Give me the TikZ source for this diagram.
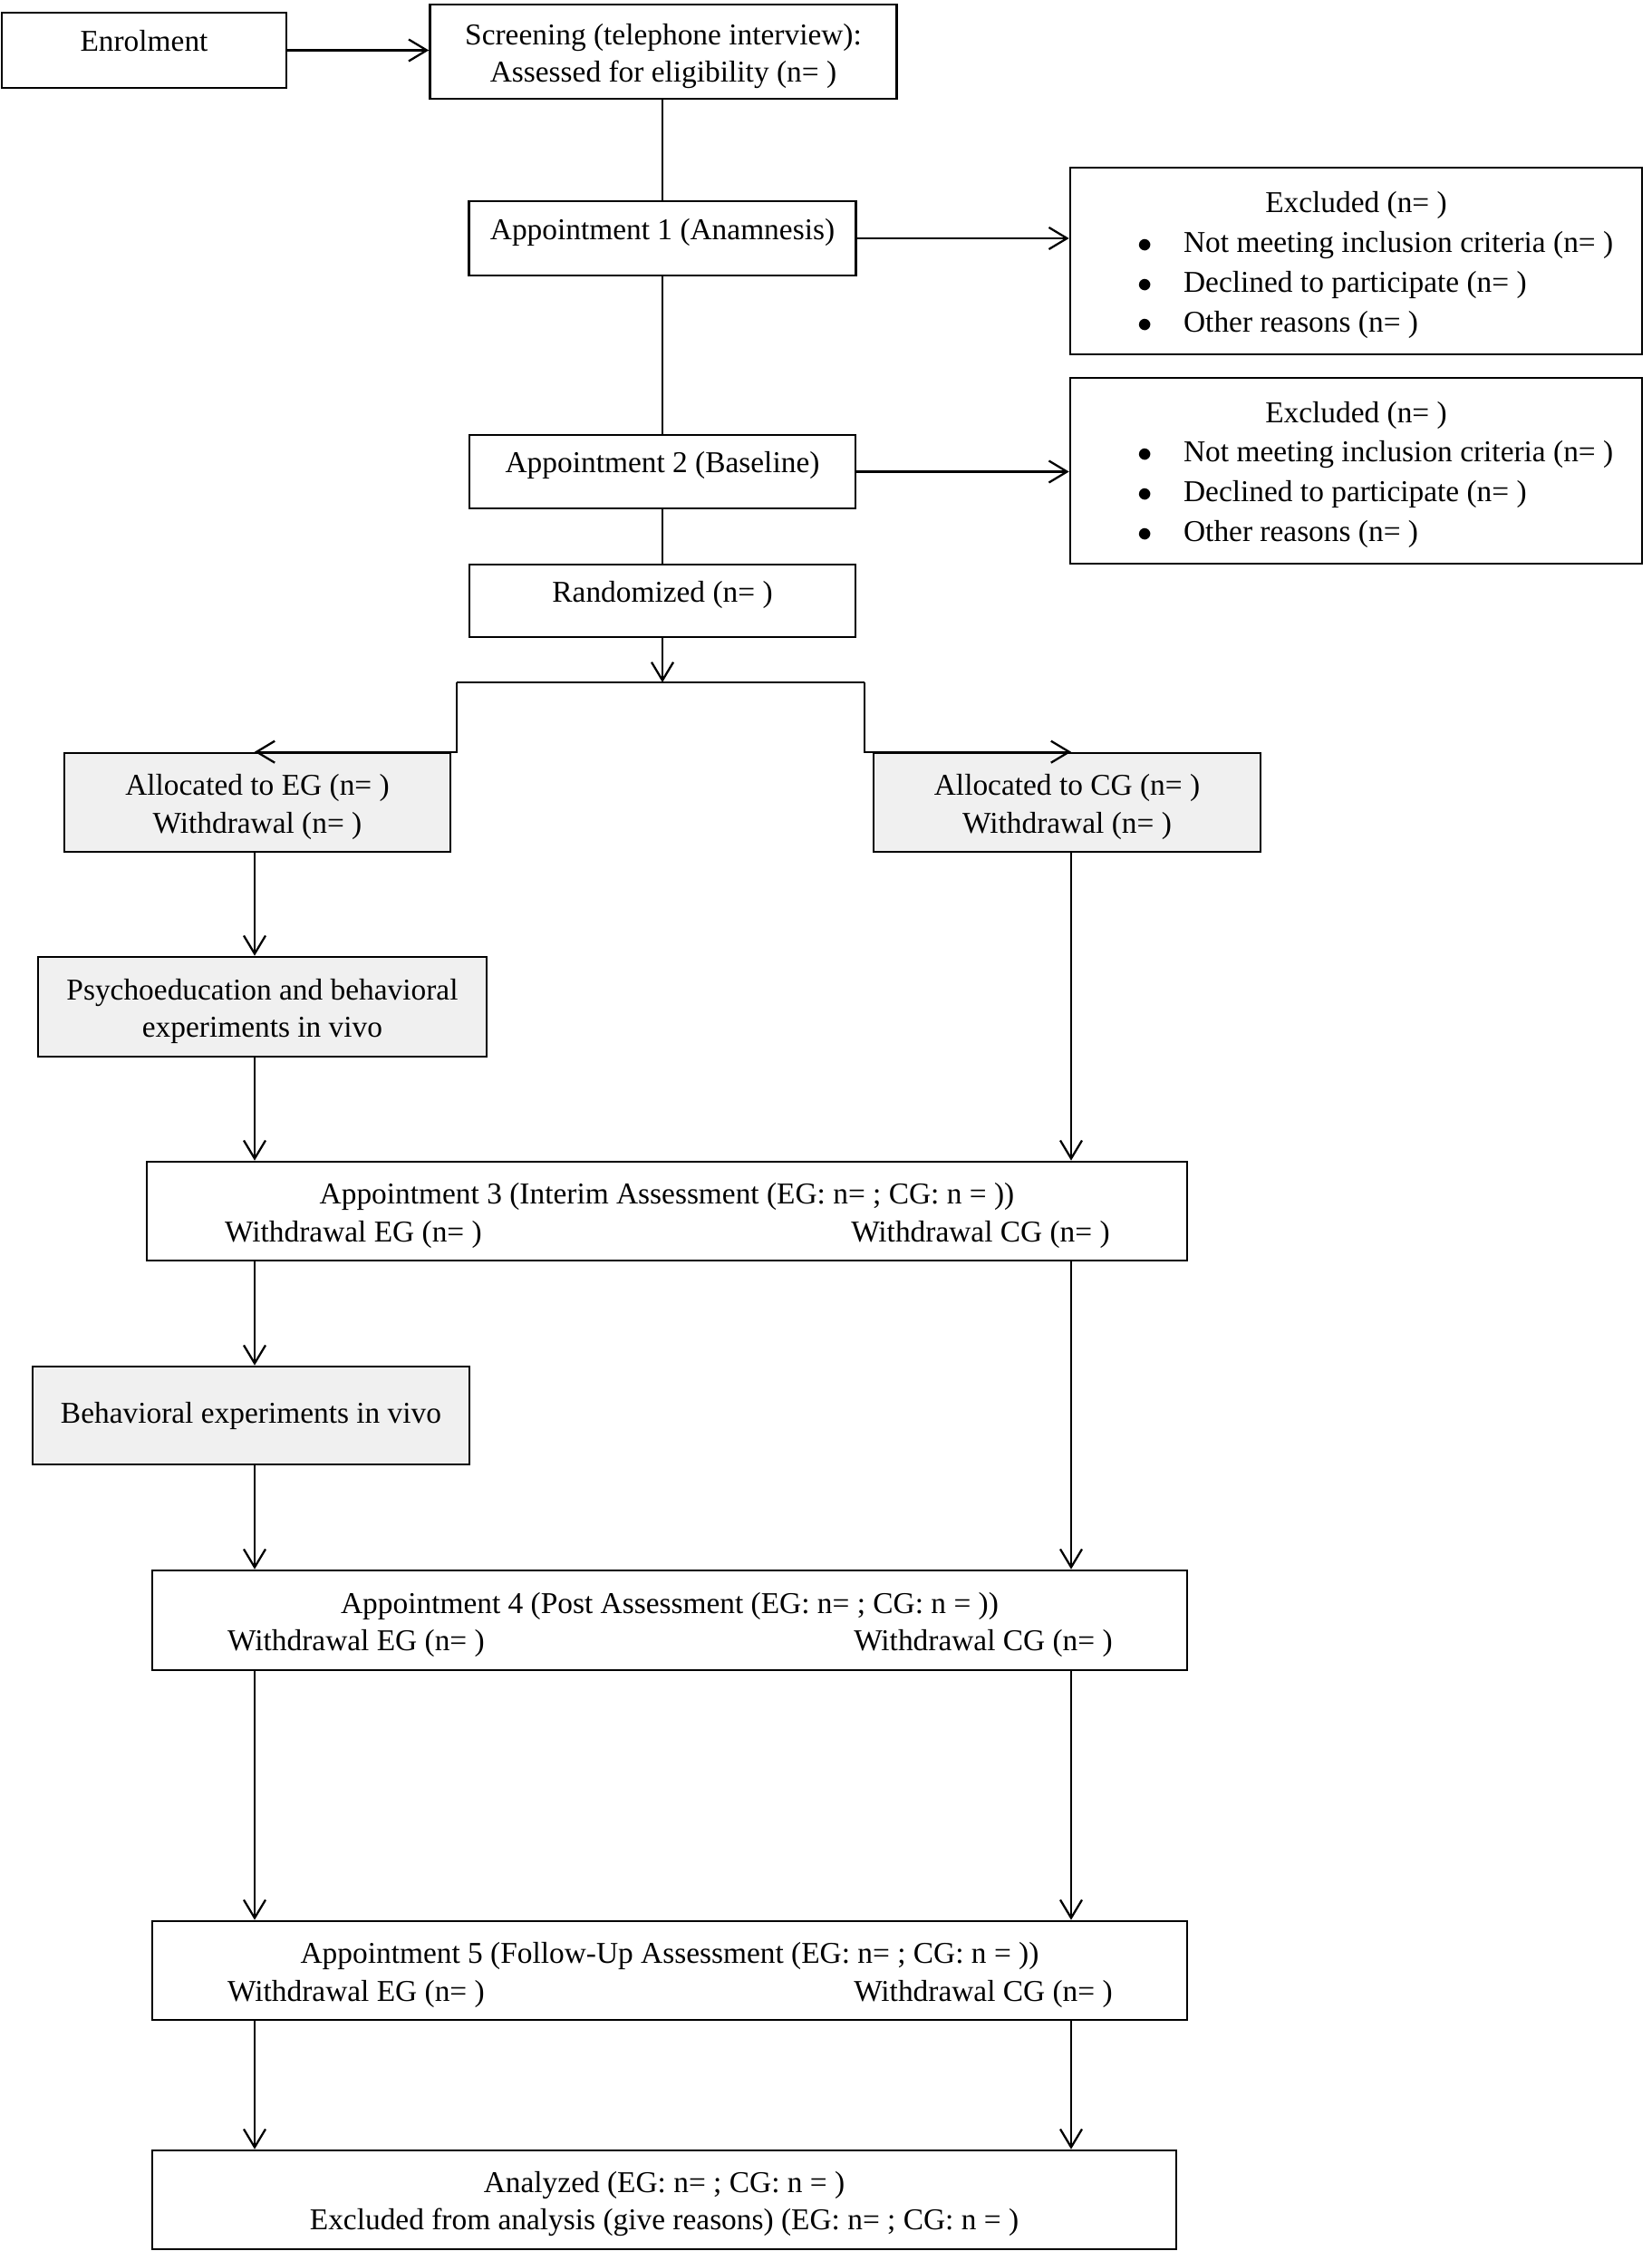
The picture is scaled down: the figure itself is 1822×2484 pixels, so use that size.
\documentclass[tikz,border=0pt]{standalone}
\usepackage{fontspec}
\setmainfont{Liberation Serif}
\usetikzlibrary{arrows.meta}
\newcommand{\topstrut}{\rule{0pt}{3.3mm}}
\newcommand{\wdrow}{\makebox[0pt]{\makebox[69.2mm]{Withdrawal EG (n= )}\makebox[69.2mm]{Withdrawal CG (n= )}}}
\newcommand{\exlist}{\begin{tabular}[t]{@{\hspace{4.3mm}}c@{\hspace{3.4mm}}l@{}}
$\bullet$ & Not meeting inclusion criteria (n= )\\
$\bullet$ & Declined to participate (n= )\\
$\bullet$ & Other reasons (n= )
\end{tabular}}
\tikzset{
  box/.style={draw, line width=0.75pt, align=center, inner sep=0pt},
  onebox/.style={box, text height=2.3mm, text depth=2.0mm},
  graybox/.style={box, fill=gray!12},
  exbox/.style={box, font=\fontsize{9.5}{12.5}\selectfont},
  line/.style={line width=0.65pt},
  arr/.style={line, -{Straight Barb[length=2mm,width=2.4mm]}}
}
\begin{document}
\begin{tikzpicture}[x=0.1mm, y=-0.1mm, font=\fontsize{9.5}{11.7}\selectfont]
				\useasboundingbox (0,0) rectangle (1822,2484);
				
				\node[onebox, minimum width=31.4mm, minimum height=8.3mm] (enrol) at (159,55.5) {Enrolment};
				\node[box, minimum width=51.5mm, minimum height=10.4mm] (screen) at (732,57) {\topstrut Screening (telephone interview):\\Assessed for eligibility (n= )};
				\node[onebox, minimum width=42.7mm, minimum height=8.2mm] (app1) at (731,263) {Appointment 1 (Anamnesis)};
				\node[exbox, minimum width=63.1mm, minimum height=20.6mm] (excl1) at (1496.5,288) {\rule{0pt}{3.8mm}Excluded (n= )\\\exlist};
				\node[onebox, minimum width=42.6mm, minimum height=8.1mm] (app2) at (731,520.5) {Appointment 2 (Baseline)};
				\node[exbox, minimum width=63.1mm, minimum height=20.5mm] (excl2) at (1496.5,519.5) {\rule{0pt}{3.8mm}Excluded (n= )\\\exlist};
				\node[onebox, minimum width=42.6mm, minimum height=8.0mm] (rand) at (731,663) {Randomized (n= )};
				
				\node[graybox, minimum width=42.6mm, minimum height=10.9mm] (eg) at (284,885.5) {\topstrut Allocated to EG (n= )\\Withdrawal (n= )};
				\node[graybox, minimum width=42.7mm, minimum height=10.9mm] (cg) at (1177.5,885.5) {\topstrut Allocated to CG (n= )\\Withdrawal (n= )};
				\node[graybox, minimum width=49.5mm, minimum height=11.0mm] (psy) at (289.5,1111) {\topstrut Psychoeducation and behavioral\\experiments in vivo};
				\node[box, minimum width=114.8mm, minimum height=10.9mm] (app3) at (736,1336.5) {\topstrut Appointment 3 (Interim Assessment (EG: n= ; CG: n = ))\\\wdrow};
				\node[graybox, minimum width=48.2mm, minimum height=10.8mm] (beh) at (277,1562) {Behavioral experiments in vivo};
				\node[box, minimum width=114.2mm, minimum height=11.0mm] (app4) at (739,1788) {\topstrut Appointment 4 (Post Assessment (EG: n= ; CG: n = ))\\\wdrow};
				\node[box, minimum width=114.2mm, minimum height=10.9mm] (app5) at (739,2174.5) {\topstrut Appointment 5 (Follow-Up Assessment (EG: n= ; CG: n = ))\\\wdrow};
				\node[box, minimum width=113.0mm, minimum height=10.9mm] (ana) at (733,2427.5) {\topstrut Analyzed (EG: n= ; CG: n = )\\Excluded from analysis (give reasons) (EG: n= ; CG: n = )};
				
				% lanes and split points
				\coordinate (eglane) at (281,0);
				\coordinate (cglane) at (1182,0);
				\coordinate (split) at (731,753);
				\coordinate (lsplit) at (504,753);
				\coordinate (rsplit) at (954,753);
				
				\draw[arr] (enrol.east) -- (enrol.east -| screen.west);
				\draw[line] (screen.south -| app1.north) -- (app1);
				\draw[line] (app1) -- (app2);
				\draw[line] (app2) -- (rand);
				\draw[arr] (app1.east) -- (app1.east -| excl1.west);
				\draw[arr] (app2.east) -- (app2.east -| excl2.west);
				
				\draw[arr] (rand) -- (split);
				\draw[line] (lsplit) -- (rsplit);
				\draw[arr] (lsplit) |- (eglane |- eg.north);
				\draw[arr] (rsplit) |- (cglane |- cg.north);
				
				\foreach \a/\b in {eg/psy, psy/app3, app3/beh, beh/app4, app4/app5, app5/ana}
					\draw[arr] (eglane |- \a.south) -- (eglane |- \b.north);
				\foreach \a/\b in {cg/app3, app3/app4, app4/app5, app5/ana}
					\draw[arr] (cglane |- \a.south) -- (cglane |- \b.north);
			\end{tikzpicture}
\end{document}
